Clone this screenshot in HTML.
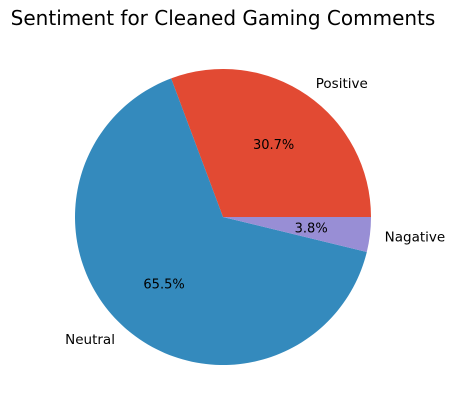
<!DOCTYPE html>
<html><head><meta charset="utf-8">
<style>
html,body{margin:0;padding:0;background:#fff;}
svg{display:block;font-family:"DejaVu Sans","Liberation Sans",sans-serif;}
</style></head>
<body>
<svg id="chart" width="457" height="412" viewBox="0 0 457 412">
<text x="223" y="25" font-size="20" text-anchor="middle" fill="#000">Sentiment for Cleaned Gaming Comments</text>
<g id="slices"></g>
</svg>
<script>
const categories = ["Positive", "Neutral", "Nagative"];
const values = [30.7, 65.5, 3.8];
const colors = ["#E24A33", "#348ABD", "#988ED5"];

const cx = 223, cy = 217, r = 148;
const ns = "http://www.w3.org/2000/svg";
const g = document.getElementById("slices");
const total = values.reduce((a, b) => a + b, 0);
function pt(angDeg, rad) {
  const a = angDeg * Math.PI / 180;
  return [cx + rad * Math.cos(a), cy - rad * Math.sin(a)];
}
let start = 0;
values.forEach((v, i) => {
  const sweep = v / total * 360;
  const end = start + sweep;
  const [x1, y1] = pt(start, r);
  const [x2, y2] = pt(end, r);
  const large = sweep > 180 ? 1 : 0;
  const p = document.createElementNS(ns, "path");
  p.setAttribute("d", `M${cx},${cy} L${x1},${y1} A${r},${r} 0 ${large} 0 ${x2},${y2} Z`);
  p.setAttribute("fill", colors[i]);
  
  
  g.appendChild(p);
  const mid = start + sweep / 2;
  const [lx, ly] = pt(mid, r * 1.1);
  const t = document.createElementNS(ns, "text");
  t.setAttribute("x", lx);
  t.setAttribute("y", ly + 5);
  t.setAttribute("font-size", "13.5");
  t.setAttribute("text-anchor", Math.cos(mid * Math.PI / 180) >= 0 ? "start" : "end");
  t.textContent = categories[i];
  
  
  g.appendChild(t);
  const [px, py] = pt(mid, r * 0.6);
  const t2 = document.createElementNS(ns, "text");
  t2.setAttribute("x", px);
  t2.setAttribute("y", py + 5);
  t2.setAttribute("font-size", "13");
  t2.setAttribute("text-anchor", "middle");
  t2.textContent = v.toFixed(1) + "%";
  
  
  g.appendChild(t2);
  start = end;
});
</script>
</body></html>
